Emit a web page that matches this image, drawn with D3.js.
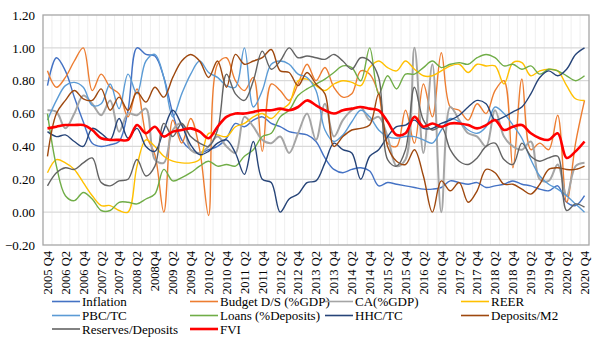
<!DOCTYPE html>
<html>
<head>
<meta charset="utf-8">
<script src="https://cdn.jsdelivr.net/npm/d3@7"></script>
<style>
  body { margin: 0; background: #fff; }
  svg text { font-family: "Liberation Serif", "Times New Roman", "DejaVu Serif", serif !important; }
</style>
</head>
<body>
<svg id="chart" width="598" height="342"></svg>
<script>
// quarters, 2005 Q4 .. 2020 Q4
const quarters = [
  "2005 Q4","2006 Q1","2006 Q2","2006 Q3","2006 Q4","2007 Q1","2007 Q2","2007 Q3","2007 Q4","2008 Q1",
  "2008 Q2","2008 Q3","2008Q4","2009 Q1","2009 Q2","2009 Q3","2009 Q4","2010 Q1","2010 Q2","2010 Q3",
  "2010 Q4","2011 Q1","2011 Q2","2011 Q3","2011 Q4","2012 Q1","2012 Q2","2012 Q3","2012 Q4","2013 Q1",
  "2013 Q2","2013 Q3","2013 Q4","2014 Q1","2014 Q2","2014 Q3","2014 Q4","2015 Q1","2015 Q2","2015 Q3",
  "2015 Q4","2016 Q1","2016 Q2","2016 Q3","2016 Q4","2017 Q1","2017 Q2","2017 Q3","2017 Q4","2018 Q1",
  "2018 Q2","2018 Q3","2018 Q4","2019 Q1","2019 Q2","2019 Q3","2019 Q4","2020 Q1","2020 Q2","2020 Q3",
  "2020 Q4"
];
// only every second quarter gets a label
const tickLabels = quarters.filter((q, i) => i % 2 === 0);

const yTicks = [-0.2, 0, 0.2, 0.4, 0.6, 0.8, 1.0, 1.2];

const inflation = [0.77,0.94,0.86,0.70,0.55,0.42,0.40,0.41,0.43,0.62, 1.00,0.96,0.95,0.82,0.60,0.44,0.38,0.36,0.38,0.40,
  0.45,0.54,0.52,0.56,0.58,0.54,0.52,0.49,0.48,0.47, 0.43,0.33,0.26,0.24,0.26,0.27,0.25,0.16,0.18,0.17,
  0.16,0.15,0.14,0.14,0.15,0.19,0.18,0.17,0.18,0.15, 0.16,0.17,0.19,0.17,0.16,0.14,0.13,0.16,0.06,0.04, 0.10];
const budget = [0.86,0.76,0.82,0.92,1.00,0.74,0.84,0.76,0.72,0.58, 0.75,0.47,0.35,0.00,0.56,0.42,0.57,0.38,-0.02,0.90,
  0.94,0.80,0.74,0.82,0.37,0.78,0.74,0.68,0.78,0.90, 0.80,0.88,0.76,0.70,0.72,0.86,0.84,0.72,0.42,0.40,
  0.62,0.42,0.78,0.58,0.97,0.64,0.62,0.56,0.66,0.60, 0.74,0.80,0.27,0.81,0.38,0.42,0.38,0.59,0.06,0.42, 0.68];
const ca = [0.62,0.61,0.51,0.60,0.71,0.66,0.59,0.68,0.49,0.60, 0.59,0.63,0.32,0.30,0.50,0.54,0.38,0.36,0.40,0.46,
  0.40,0.36,0.58,0.52,0.44,0.42,0.46,0.36,0.48,0.60, 0.44,0.66,0.46,0.56,0.62,0.64,0.56,0.58,0.46,0.28,
  0.32,1.00,0.36,0.90,0.00,0.64,0.56,0.48,0.46,0.40, 0.62,0.46,0.40,0.38,0.43,0.20,0.19,0.29,0.10,0.28, 0.30];
const reer = [0.24,0.32,0.30,0.26,0.18,0.10,0.04,0.04,0.01,0.00, 0.28,0.44,0.40,0.34,0.31,0.30,0.30,0.32,0.48,0.47,
  0.46,0.52,0.54,0.58,0.60,0.57,0.62,0.66,0.80,0.81, 0.77,0.74,0.78,0.80,0.79,0.77,0.88,0.92,0.88,0.86,
  0.92,0.87,0.83,0.83,0.86,0.89,0.90,0.85,0.90,0.89, 0.89,0.78,0.91,0.91,0.83,0.86,0.87,0.86,0.77,0.69, 0.68];
const pbc = [0.56,0.68,0.77,0.79,0.76,0.65,0.66,0.78,0.63,0.84, 0.72,0.92,0.96,0.82,0.58,0.72,0.84,0.92,0.85,0.82,
  0.77,0.76,1.00,0.64,0.74,0.90,0.92,0.90,0.84,0.82, 0.74,0.50,0.43,0.47,0.55,0.62,0.58,0.50,0.46,0.45,
  0.46,0.46,0.44,0.42,0.50,0.57,0.55,0.50,0.48,0.52, 0.64,0.60,0.53,0.45,0.32,0.22,0.17,0.14,0.10,0.05, 0.00];
const loans = [0.60,0.28,0.10,0.07,0.12,0.08,0.01,0.01,0.06,0.06, 0.05,0.08,0.11,0.26,0.19,0.21,0.24,0.28,0.31,0.28,
  0.29,0.28,0.34,0.38,0.46,0.48,0.58,0.62,0.71,0.75, 0.78,0.81,0.85,0.89,0.88,0.80,1.00,0.72,0.83,0.75,
  0.84,0.84,0.88,0.92,0.88,0.90,0.91,0.90,0.94,0.96, 0.94,0.89,0.90,0.87,0.89,0.84,0.87,0.86,0.83,0.80, 0.83];
const hhc = [0.49,0.46,0.47,0.43,0.40,0.51,0.48,0.44,0.57,0.45, 0.51,0.40,0.37,0.50,0.62,0.53,0.41,0.35,0.37,0.42,
  0.44,0.36,0.23,0.43,0.20,0.18,0.00,0.08,0.11,0.18, 0.19,0.30,0.42,0.38,0.36,0.20,0.34,0.38,0.46,0.52,
  0.53,0.56,0.51,0.51,0.54,0.56,0.59,0.64,0.68,0.66, 0.56,0.58,0.61,0.64,0.72,0.82,0.86,0.83,0.87,0.96, 1.00];
const depositsM2 = [0.34,0.60,0.68,0.74,0.69,0.68,0.75,0.62,0.70,0.62, 0.73,0.67,0.76,0.70,0.82,0.92,0.96,0.92,0.82,0.92,
  0.76,0.96,0.90,0.92,0.94,0.99,0.86,0.85,0.77,0.85, 0.78,0.72,0.40,0.46,0.50,0.51,0.53,0.72,0.40,0.31,
  0.29,0.38,0.22,0.00,0.19,0.13,0.18,0.06,0.13,0.26, 0.24,0.17,0.17,0.14,0.11,0.17,0.26,0.27,0.26,0.26, 0.28];
const reserves = [0.16,0.24,0.27,0.26,0.30,0.33,0.18,0.16,0.19,0.20, 0.32,0.22,0.28,0.54,0.46,0.54,0.46,0.42,0.40,0.50,
  0.84,0.72,0.68,0.80,0.98,0.87,0.92,1.00,0.94,0.95, 0.94,0.93,0.96,0.92,0.87,0.94,0.92,0.82,0.32,0.28,
  0.38,0.76,0.56,0.50,0.52,0.38,0.31,0.29,0.33,0.40, 0.42,0.32,0.29,0.42,0.34,0.31,0.33,0.34,0.01,0.05, 0.03];
const fvi = [0.51,0.52,0.53,0.53,0.53,0.50,0.45,0.44,0.44,0.44, 0.53,0.48,0.52,0.46,0.49,0.50,0.51,0.49,0.45,0.52,
  0.58,0.60,0.60,0.61,0.62,0.62,0.63,0.62,0.64,0.68, 0.65,0.62,0.60,0.62,0.63,0.64,0.63,0.62,0.55,0.47,
  0.48,0.58,0.52,0.54,0.52,0.54,0.54,0.53,0.51,0.53, 0.56,0.50,0.52,0.53,0.48,0.45,0.44,0.48,0.33,0.37, 0.43];

const seriesNames = ["Inflation","Budget D/S (%GDP)","CA(%GDP)","REER","PBC/TC","Loans (%Deposits)",
  "HHC/TC","Deposits/M2","Reserves/Deposits","FVI"];
const seriesValues = [inflation, budget, ca, reer, pbc, loans, hhc, depositsM2, reserves, fvi];
const seriesColors = ["#4472C4","#ED7D31","#A5A5A5","#FFC000","#5B9BD5","#70AD47","#264478","#9E480E","#636363","#FF0000"];
const seriesWidths = [1.4,1.4,2,1.4,1.4,1.4,1.4,1.4,1.4,2.6];

const svg = d3.select("#chart");
const plotLeft = 43, plotRight = 589, plotTop = 15, plotBottom = 245;

const x = d3.scaleBand().domain(quarters).range([plotLeft, plotRight]).padding(0);
const y = d3.scaleLinear().domain([-0.2, 1.2]).range([plotBottom, plotTop]);
const cx = q => x(q) + x.bandwidth() / 2;

// faint vertical gridlines between quarters
svg.append("g")
  .selectAll("line")
  .data(quarters.slice(1))
  .join("line")
    .attr("x1", d => x(d)).attr("x2", d => x(d))
    .attr("y1", plotTop).attr("y2", plotBottom)
    .attr("stroke", "#EFEFEF")
    .attr("stroke-width", 1);

// horizontal gridlines
svg.append("g")
  .selectAll("line")
  .data(yTicks.slice(1, -1))
  .join("line")
    .attr("x1", plotLeft).attr("x2", plotRight)
    .attr("y1", d => y(d)).attr("y2", d => y(d))
    .attr("stroke", "#D9D9D9")
    .attr("stroke-width", 1.2);

// plot area border
svg.append("rect")
  .attr("x", plotLeft).attr("y", plotTop)
  .attr("width", plotRight - plotLeft).attr("height", plotBottom - plotTop)
  .attr("fill", "none")
  .attr("stroke", "#A6A6A6")
  .attr("stroke-width", 1.3);

// y axis
const yAxis = d3.axisLeft(y).tickValues(yTicks).tickFormat(d3.format(".2f")).tickSize(0).tickPadding(8);
const gy = svg.append("g").attr("transform", `translate(${plotLeft},0)`).call(yAxis);
gy.select(".domain").remove();
gy.selectAll("text").style("font-size", "13px").attr("fill", "#000");

// x axis, rotated labels
const xAxis = d3.axisBottom(x).tickValues(tickLabels).tickSize(0).tickPadding(0);
const gx = svg.append("g").attr("transform", `translate(0,${plotBottom})`).call(xAxis);
gx.select(".domain").remove();
gx.selectAll("text")
  .style("font-size", "12.5px").attr("fill", "#000")
  .attr("transform", "rotate(-90)")
  .attr("text-anchor", "end")
  .attr("dy", "0.35em")
  .attr("x", -6)
  .attr("y", 0);

// series
const line = d3.line()
  .x((d, i) => cx(quarters[i]))
  .y(d => y(d))
  .curve(d3.curveCatmullRom.alpha(0.5));

svg.append("g")
  .selectAll("path")
  .data(seriesValues)
  .join("path")
    .attr("d", d => line(d))
    .attr("fill", "none")
    .attr("stroke", (d, i) => seriesColors[i])
    .attr("stroke-width", (d, i) => seriesWidths[i])
    .attr("stroke-linejoin", "round");

// legend: 4 columns, 3 rows
const colX = [52, 190, 325, 461];
const rowY = [301.5, 315.5, 329];
const leg = svg.append("g")
  .selectAll("g")
  .data(seriesNames)
  .join("g")
    .attr("transform", (d, i) => `translate(${colX[i % 4]},${rowY[Math.floor(i / 4)]})`);
leg.append("line")
  .attr("x1", 0).attr("x2", 28).attr("y1", 0).attr("y2", 0)
  .attr("stroke", (d, i) => seriesColors[i])
  .attr("stroke-width", (d, i) => i === 9 ? 2.6 : 1.6);
leg.append("text")
  .attr("x", 30).attr("y", 0).attr("dy", "0.35em")
  .style("font-size", "13px")
  .attr("fill", "#000")
  .text(d => d);
</script>
</body>
</html>
